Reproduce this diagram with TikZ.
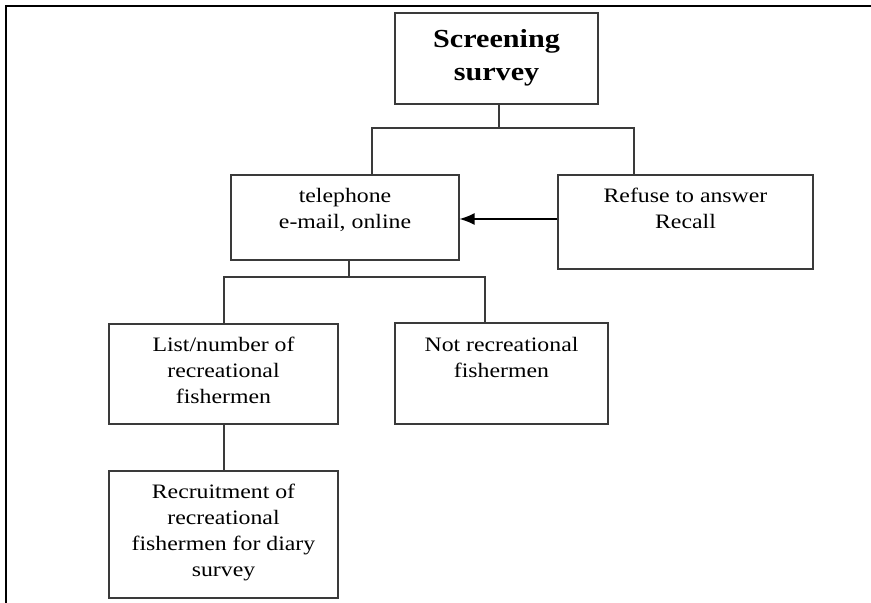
\documentclass[tikz,border=0pt]{standalone}
\usepackage{fontspec}
\setmainfont{Liberation Serif}[FakeStretch=1.16]
\usetikzlibrary{arrows.meta}
\definecolor{boxline}{HTML}{3A3A3A}
\newcommand{\bxt}[4]{\parbox[c][#2][t]{#1}{\centering\vspace*{#3}\fontsize{20.5}{25.7}\selectfont\strut #4}}
\newcommand{\ttlt}[4]{\parbox[c][#2][t]{#1}{\centering\vspace*{#3}\fontsize{26}{33}\selectfont\bfseries\strut #4}}
\tikzset{
  flowbox/.style={draw=boxline, line width=1.2pt, rectangle, inner sep=0pt, fill=white},
  link/.style={draw=boxline, line width=1.2pt},
  arrowlink/.style={draw=black, line width=1.3pt, -{Latex[length=15pt,width=12pt]}},
  frameline/.style={draw=black, line width=2pt}
}
\begin{document}
\begin{tikzpicture}[x=1pt,y=-1pt]
\useasboundingbox (0,0) rectangle (871,603);
\draw[frameline] (5.5,603) -- (5.5,5.5) -- (871,5.5);

\node[flowbox] (scr) at (496.5,58.5) {\ttlt{203pt}{91pt}{11pt}{Screening\\survey}};
\node[flowbox] (tel) at (345,217.5) {\bxt{228pt}{85pt}{10pt}{telephone\\e-mail, online}};
\node[flowbox] (ref) at (685.5,222) {\bxt{255pt}{94pt}{10pt}{Refuse to answer\\Recall}};
\node[flowbox] (list) at (223.5,374) {\bxt{229pt}{100pt}{10pt}{List/number of\\recreational\\fishermen}};
\node[flowbox] (notr) at (501.5,373.5) {\bxt{213pt}{101pt}{11pt}{Not recreational\\fishermen}};
\node[flowbox] (recr) at (223.5,534.5) {\bxt{229pt}{127pt}{10pt}{Recruitment of\\recreational\\fishermen for diary\\survey}};

\coordinate (s0) at (499,128);
\coordinate (b1L) at (372,128);
\coordinate (b1R) at (634,128);
\draw[link] (s0 |- scr.south) -- (s0);
\draw[link] (b1L |- tel.north) -- (b1L) -- (b1R) -- (b1R |- ref.north);

\coordinate (s1) at (349,277);
\coordinate (b2L) at (224,277);
\coordinate (b2R) at (485,277);
\draw[link] (s1 |- tel.south) -- (s1);
\draw[link] (b2L |- list.north) -- (b2L) -- (b2R) -- (b2R |- notr.north);

\draw[link] (list.south -| b2L) -- (recr.north -| b2L);

\coordinate (ar) at (0,219);
\draw[arrowlink] (ref.west |- ar) -- (tel.east |- ar);
\end{tikzpicture}
\end{document}
